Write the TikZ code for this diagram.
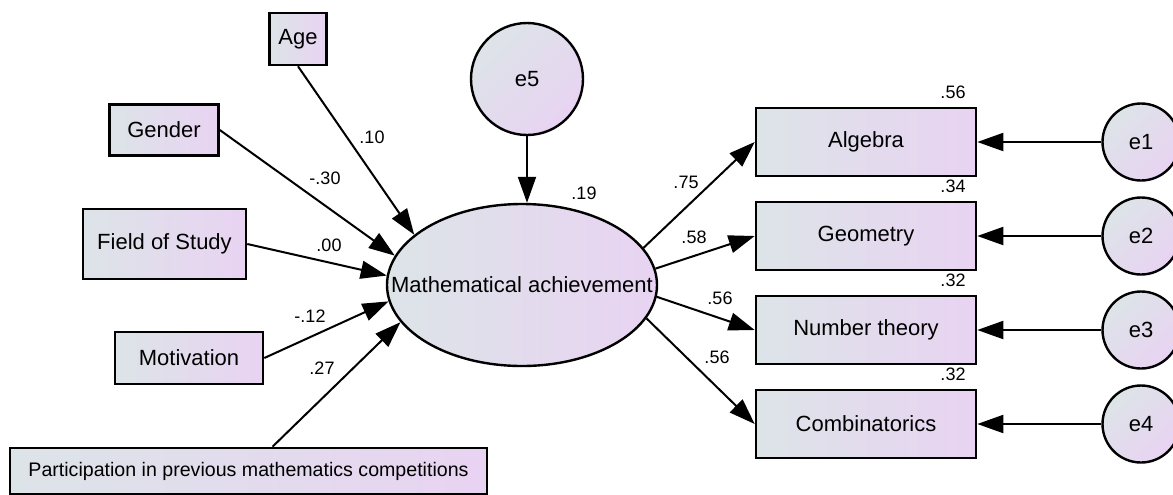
\documentclass[tikz,border=0pt]{standalone}
\usepackage{fontspec}
\setmainfont{Liberation Sans}
\usetikzlibrary{shapes.geometric,arrows.meta}
\definecolor{fillL}{HTML}{DDE4E8}
\definecolor{fillR}{HTML}{E8D3F2}
\tikzset{
  obs/.style={draw=black, line width=1.3pt, left color=fillL, right color=fillR, inner sep=2pt, font=\fontsize{11}{13}\selectfont},
  lat/.style={ellipse, draw=black, line width=1.2pt, left color=fillL, right color=fillR, inner sep=0pt, font=\fontsize{11}{13}\selectfont},
  err/.style={circle, draw=black, line width=1.2pt, left color=fillL, right color=fillR, shading angle=45, inner sep=0pt, font=\fontsize{11}{13}\selectfont},
  reg/.style={draw=black, line width=1pt, -{Triangle[length=13pt,width=9pt]}},
  lab/.style={font=\fontsize{9}{11}\selectfont, inner sep=0pt},
}

\begin{document}
\begin{tikzpicture}[x=0.5pt,y=-0.5pt]
  \useasboundingbox (0,0) rectangle (1173,494);
  % predictors
  \node[obs, minimum width=28.5pt, minimum height=26pt] (age) at (298,39) {Age};
  \node[obs, minimum width=54.5pt, minimum height=25.5pt] (gender) at (164,130) {Gender};
  \node[obs, minimum width=81.5pt, minimum height=35pt] (field) at (164.5,244) {Field of Study};
  \node[obs, minimum width=74pt, minimum height=26pt] (motiv) at (189,358) {Motivation};
  \node[obs, minimum width=238.5pt, minimum height=23pt, font=\fontsize{9.8}{12}\selectfont] (partic) at (248.5,471) {Participation in previous mathematics competitions};
  % latent variable and its error
  \node[lat, minimum width=135pt, minimum height=81pt] (ach) at (522,285) {\makebox[0pt]{Mathematical achievement}};
  \node[err, minimum size=56pt] (e5) at (527,79) {e5};
  % indicators
  \node[obs, minimum width=110pt, minimum height=34pt] (alg) at (866,142) {Algebra};
  \node[obs, minimum width=110pt, minimum height=34pt] (geo) at (866,236) {Geometry};
  \node[obs, minimum width=110pt, minimum height=34pt] (num) at (866,330) {Number theory};
  \node[obs, minimum width=110pt, minimum height=34pt] (comb) at (866,424) {Combinatorics};
  \foreach \n/\v/\y in {alg/1/142, geo/2/236, num/3/330, comb/4/424}{
    \node[err, minimum size=38.5pt] (e\v) at (1141,\y) {e\v};
    \draw[reg] (e\v) -- (\n);
  }
  % paths
  \draw[reg] (age.south) -- (ach.155);
  \draw[reg] (gender.east) -- (ach.167);
  \draw[reg] (field.east) -- (ach.176);
  \draw[reg] (motiv.east) -- (ach.187);
  \draw[reg] ([xshift=12pt]partic.north) -- (ach.197);
  \draw[reg] (e5) -- (e5 |- ach.north);
  \draw[reg] (ach.17) -- (alg.west);
  \draw[reg] (ach.7) -- (geo.west);
  \draw[reg] (ach.355) -- (num.west);
  \draw[reg] (ach.345) -- (comb.west);
  % estimates
  \node[lab] (l-age) at (372,137) {.10};
  \node[lab] (l-gender) at (325,178) {-.30};
  \node[lab] (l-field) at (329,245) {.00};
  \node[lab] (l-motiv) at (310,316) {-.12};
  \node[lab] (l-partic) at (322,368) {.27};
  \node[lab] (r-ach) at (584,193) {.19};
  \node[lab] (l-alg) at (686,182) {.75};
  \node[lab] (l-geo) at (694,237) {.58};
  \node[lab] (l-num) at (720,298) {.56};
  \node[lab] (l-comb) at (717,357) {.56};
  \node[lab] (r-alg) at (953,92) {.56};
  \node[lab] (r-geo) at (953,186) {.34};
  \node[lab] (r-num) at (953,280) {.32};
  \node[lab] (r-comb) at (953,374) {.32};
\end{tikzpicture}
\end{document}
